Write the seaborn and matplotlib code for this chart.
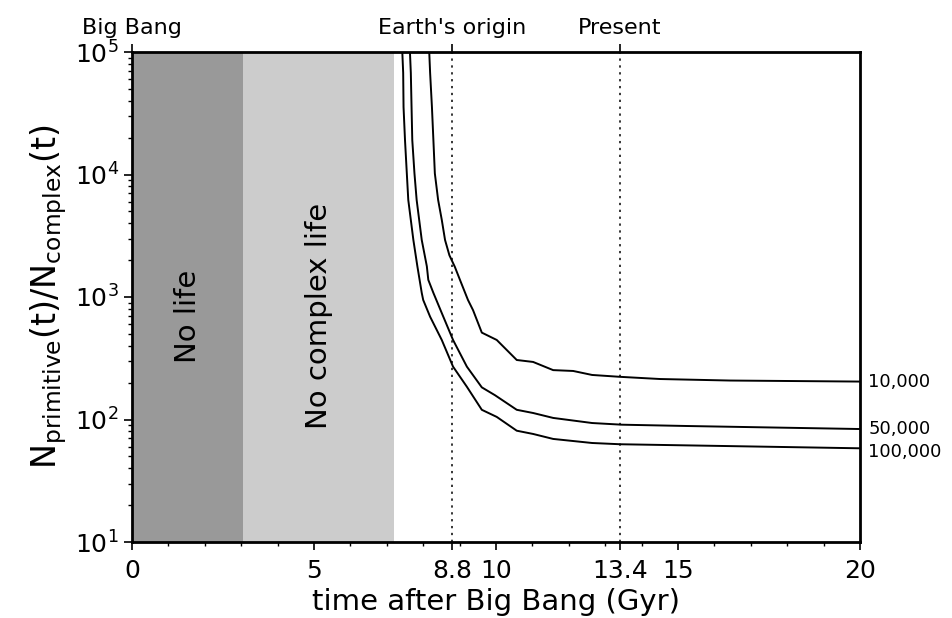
import numpy as np
import pandas as pd
import matplotlib
matplotlib.use("Agg")
import matplotlib.pyplot as plt
import seaborn as sns
from matplotlib.ticker import FixedLocator, LogLocator, NullFormatter

# ---- data ----
t_10k = [8.16, 8.19, 8.24, 8.28, 8.32, 8.41, 8.51, 8.60, 8.72, 8.87, 9.01, 9.23, 9.37, 9.61,
         10.02, 10.57, 11.02, 11.57, 12.12, 12.64, 13.41, 14.51, 16.43, 20.0]
v_10k = [110000, 67600, 35500, 19100, 10200, 6200, 4270, 2920, 2190, 1760, 1380, 946, 780, 512,
         446, 306, 295, 253, 249, 231, 223, 214, 208, 204]

t_50k = [7.63, 7.66, 7.68, 7.70, 7.76, 7.82, 7.96, 8.10, 8.14, 8.28, 8.51, 8.82, 9.20, 9.61,
         9.97, 10.57, 11.02, 11.57, 12.64, 13.46, 15.24, 20.0]
v_50k = [110000, 67600, 35500, 19100, 10200, 6200, 2920, 1780, 1380, 1080, 740, 446, 270, 183,
         158, 120, 113, 103, 93.6, 90.7, 88.5, 83.6]

t_100k = [7.42, 7.45, 7.46, 7.50, 7.55, 7.59, 7.73, 7.84, 7.96, 8.00, 8.19, 8.51, 8.82, 9.20,
          9.61, 10.02, 10.57, 11.02, 11.57, 12.64, 13.41, 20.0]
v_100k = [110000, 67600, 35500, 19100, 10200, 6200, 2920, 1780, 1080, 946, 690, 446, 270, 185,
          120, 105, 81, 76.2, 69.4, 64.3, 62.8, 58.2]

series_names = ["10,000", "50,000", "100,000"]
series_t = [t_10k, t_50k, t_100k]
series_v = [v_10k, v_50k, v_100k]

no_life_end = 3.05
no_complex_end = 7.2
event_times = [0, 8.8, 13.4]
event_labels = ["Big Bang", "Earth's origin", "Present"]
x_major = [0, 5, 8.8, 10, 13.4, 15, 20]
x_major_labels = ["0", "5", "8.8", "10", "13.4", "15", "20"]

frames = []
for name, t, v in zip(series_names, series_t, series_v):
    frames.append(pd.DataFrame({"t": t, "ratio": v, "series": name}))
df = pd.concat(frames, ignore_index=True)

# ---- style ----
sns.set_style("ticks")
plt.rcParams["font.family"] = ["DejaVu Sans"]
plt.rcParams["mathtext.fontset"] = "dejavusans"
for k in ["text.color", "axes.labelcolor", "xtick.color", "ytick.color", "axes.edgecolor"]:
    plt.rcParams[k] = "black"

fig = plt.figure(figsize=(9.52, 6.18), dpi=100)
ax = fig.add_axes([132/952, 1-542/618, (860-132)/952, (542-52)/618])

ax.axvspan(0, no_life_end, color="#999999", lw=0, zorder=0)
ax.axvspan(no_life_end, no_complex_end, color="#cccccc", lw=0, zorder=0)

sns.lineplot(data=df, x="t", y="ratio", hue="series", sort=False,
             palette=["black"]*3, legend=False, lw=1.4, ax=ax, estimator=None)

for et in event_times[1:]:
    ax.axvline(et, color="black", ls=(0, (1.5, 3)), lw=1.1, zorder=1)

ax.set_yscale("log")
ax.set_xlim(0, 20)
ax.set_ylim(10, 1e5)

ax.xaxis.set_major_locator(FixedLocator(x_major))
ax.set_xticklabels(x_major_labels)
ax.xaxis.set_minor_locator(FixedLocator(np.arange(0, 21, 1)))
ax.yaxis.set_major_locator(LogLocator(base=10, numticks=10))
ax.yaxis.set_minor_locator(LogLocator(base=10, subs=np.arange(2, 10), numticks=10))
ax.yaxis.set_minor_formatter(NullFormatter())

ax.tick_params(axis="both", which="major", direction="out", length=6, width=1.2, labelsize=18, color="black")
ax.tick_params(axis="both", which="minor", direction="out", length=3, width=1, color="black")
ax.tick_params(axis="x", which="major", pad=6)

for s in ax.spines.values():
    s.set_linewidth(2)
    s.set_color("black")
    s.set_visible(True)

ax.set_xlabel("time after Big Bang (Gyr)", fontsize=21, labelpad=4)
ax.set_ylabel(r"$\mathregular{N_{primitive}(t)/N_{complex}(t)}$", fontsize=24, labelpad=4)

top = ax.twiny()
top.set_xlim(ax.get_xlim())
top.set_xticks(event_times)
top.set_xticklabels(event_labels, fontsize=16)
top.tick_params(axis="x", direction="out", length=6, width=1.2, pad=4, colors="black")
for s in top.spines.values():
    s.set_visible(False)

ax.text(no_life_end/2, 700, "No life", rotation=90, ha="center", va="center", fontsize=21)
ax.text((no_life_end+no_complex_end)/2, 700, "No complex life", rotation=90, ha="center", va="center", fontsize=21)

offsets = [0, 0, -3]
for name, t, v, dy in zip(series_names, series_t, series_v, offsets):
    ax.annotate(name, xy=(t[-1], v[-1]), xytext=(6, dy), textcoords="offset points",
                ha="left", va="center", fontsize=13, annotation_clip=False)

fig.savefig("out.png", dpi=100)
